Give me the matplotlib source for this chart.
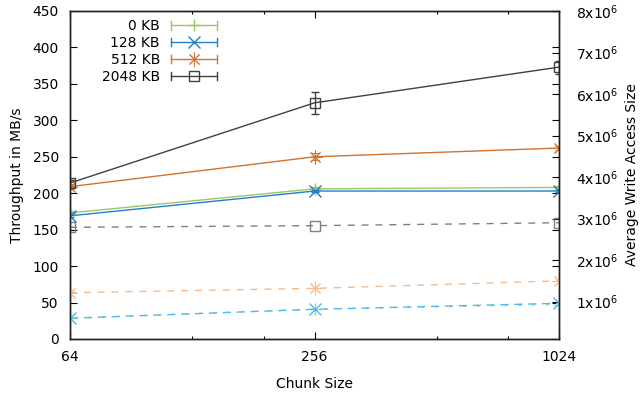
import matplotlib
matplotlib.use("Agg")
import matplotlib.pyplot as plt
from matplotlib.lines import Line2D
from matplotlib.legend_handler import HandlerBase
from matplotlib.ticker import FixedLocator, FuncFormatter, NullFormatter

# ---- data ----
chunk_sizes = [64, 256, 1024]
labels = ["0 KB", "128 KB", "512 KB", "2048 KB"]

# throughput in MB/s (left axis)
tp_0 = [173, 206, 208]
tp_128 = [169, 203, 203]
tp_512 = [209, 250, 262]
tp_2048 = [214, 324, 373]
tp_err_0 = [2, 3, 2]
tp_err_128 = [2, 2, 2]
tp_err_512 = [3, 5, 3]
tp_err_2048 = [4, 15, 9]

# average write access size (right axis)
ws_0 = [0.60e6, 0.82e6, 0.93e6]
ws_128 = [0.60e6, 0.815e6, 0.96e6]
ws_512 = [1.215e6, 1.32e6, 1.50e6]
ws_2048 = [2.79e6, 2.83e6, 2.90e6]

colors = ["#9cc46a", "#1f80c8", "#d2732e", "#404040"]
light_colors = ["#a8d47a", "#4fbaf0", "#f8b98a", "#808080"]
markers = ["+", "x", (8, 2, 0), "s"]
dash_styles = [(7, (2, 8)), (0, (6, 4)), (0, (5, 5)), (0, (5, 5))]

tp_series = [tp_0, tp_128, tp_512, tp_2048]
tp_errs = [tp_err_0, tp_err_128, tp_err_512, tp_err_2048]
ws_series = [ws_0, ws_128, ws_512, ws_2048]

plt.rcParams["font.family"] = ["DejaVu Sans"]
plt.rcParams["font.size"] = 10

W, H = 642, 398
fig = plt.figure(figsize=(W / 100, H / 100), dpi=100)
ax = fig.add_axes([70 / W, 1 - 339 / H, (559 - 70) / W, (339 - 11) / H])
ax2 = ax.twinx()

msize = {"+": 9, "x": 8, "s": 7}


def msz(m):
    return msize.get(m, 10) if isinstance(m, str) else 10


def mew(m):
    return 1.0 if isinstance(m, str) else 0.7


for vals, err, c, m in zip(tp_series, tp_errs, colors, markers):
    ax.errorbar(chunk_sizes, vals, yerr=err, color=c, marker=m,
                markersize=msz(m), markerfacecolor="none", markeredgewidth=mew(m),
                linewidth=1.0, elinewidth=1.0, capsize=3, capthick=1.0)

for vals, c, m, ls in zip(ws_series, light_colors, markers, dash_styles):
    ax2.plot(chunk_sizes, vals, color=c, marker=m, markersize=msz(m),
             markerfacecolor="none", markeredgewidth=mew(m), linewidth=1.0,
             linestyle=ls)

# x axis (log scale)
ax.set_xscale("log", base=2)
ax.set_xlim(64, 1024)
ax.xaxis.set_major_locator(FixedLocator([64, 256, 1024]))
ax.xaxis.set_minor_locator(FixedLocator([128, 192, 512, 768]))
ax.xaxis.set_major_formatter(FuncFormatter(lambda v, p: "%d" % v))
ax.xaxis.set_minor_formatter(NullFormatter())
ax.set_xlabel("Chunk Size", labelpad=9)

# left axis
ax.set_ylim(0, 450)
ax.set_yticks(range(0, 451, 50))
ax.set_ylabel("Throughput in MB/s", labelpad=6)
ax.tick_params(which="both", direction="in", top=True, right=True, pad=8)
ax.tick_params(which="major", length=5, width=0.8)
ax.tick_params(which="minor", length=2.5, width=0.8)

# right axis
ax2.set_ylim(1e5, 8e6)
ax2.set_yticks([i * 1e6 for i in range(1, 9)])
ax2.yaxis.set_major_formatter(FuncFormatter(lambda v, p: r"%dx10$^{6}$" % round(v / 1e6)))
ax2.tick_params(direction="in", length=5, width=0.8, pad=12)
ax2.set_ylabel("Average Write Access Size", labelpad=5)

for a in (ax, ax2):
    for s in a.spines.values():
        s.set_linewidth(1.0)
        s.set_color("#202020")


class ErrKeyHandler(HandlerBase):
    def __init__(self, color, marker):
        super().__init__()
        self.color = color
        self.marker = marker

    def create_artists(self, legend, orig_handle, xdescent, ydescent, width,
                       height, fontsize, trans):
        y = height / 2 - ydescent
        x0, x1 = -xdescent, width - xdescent
        cap = 3.0
        arts = [
            Line2D([x0, x1], [y, y], color=self.color, lw=1.0),
            Line2D([x0, x0], [y - cap, y + cap], color=self.color, lw=1.0),
            Line2D([x1, x1], [y - cap, y + cap], color=self.color, lw=1.0),
            Line2D([(x0 + x1) / 2], [y], marker=self.marker, color=self.color,
                   markersize=msz(self.marker), markerfacecolor="none",
                   markeredgewidth=mew(self.marker), linestyle="none"),
        ]
        for a in arts:
            a.set_transform(trans)
        return arts


handles = [Line2D([], [], color=c) for c in colors]
handler_map = {h: ErrKeyHandler(c, m) for h, c, m in zip(handles, colors, markers)}
leg = ax.legend(handles, labels, handler_map=handler_map, loc="upper left",
                bbox_to_anchor=(0.065, 0.975), frameon=False, markerfirst=False,
                handlelength=3.3, handletextpad=0.8, labelspacing=0.2,
                borderpad=0, borderaxespad=0)
leg.set_zorder(10)

fig.savefig("out.png", dpi=100)
